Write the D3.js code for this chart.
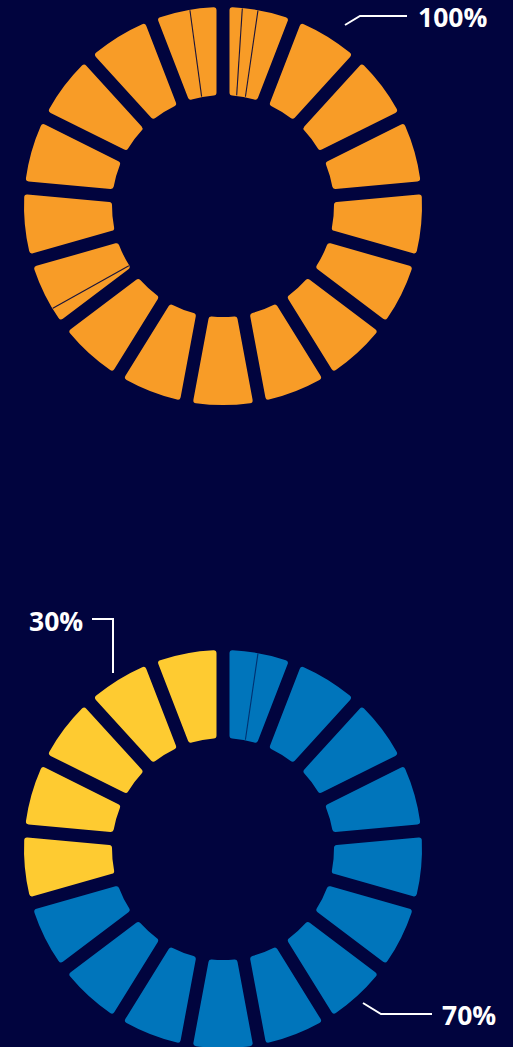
<!DOCTYPE html>
<html><head><meta charset="utf-8">
<script src="https://cdn.jsdelivr.net/npm/d3@7"></script>
<style>html,body{margin:0;padding:0;background:#01043e;overflow:hidden} svg{display:block}</style>
</head><body>
<script>
// ---- data ----
const goals = ["Goal 1","Goal 2","Goal 3","Goal 4","Goal 5","Goal 6","Goal 7","Goal 8","Goal 9",
  "Goal 10","Goal 11","Goal 12","Goal 13","Goal 14","Goal 15","Goal 16","Goal 17"];
const topStatus = ["all","all","all","all","all","all","all","all","all",
  "all","all","all","all","all","all","all","all"];
const bottomStatus = ["blue","blue","blue","blue","blue","blue","blue","blue","blue",
  "blue","blue","blue","yellow","yellow","yellow","yellow","yellow"];
const topLabels = ["100%"];
const bottomLabels = ["30%","70%"];
// sub-slice boundaries inside a goal segment (fraction of the segment)
const topSplits = [
  {goal:"Goal 1", at:0.175, edge:"start"},
  {goal:"Goal 1", at:0.39, edge:"start"},
  {goal:"Goal 12", at:0.376, edge:"end"},
  {goal:"Goal 17", at:0.636, edge:"end"}
];
const bottomSplits = [
  {goal:"Goal 1", at:0.39, edge:"start"}
];

// ---- drawing ----
const W = 513, H = 1047;
const bg = "#01043e";
const colors = {all:"#f89c27", blue:"#0075bb", yellow:"#fecb31"};
const r0 = 111, r1 = 199, padR = Math.sqrt(r0*r0 + r1*r1), padA = 13 / padR;

const svg = d3.select("body").append("svg").attr("width", W).attr("height", H);
svg.append("rect").attr("width", W).attr("height", H).attr("fill", bg);

const pie = d3.pie().sort(null).value(() => 1).startAngle(0).endAngle(2*Math.PI);
const arc = d3.arc().innerRadius(r0).outerRadius(r1).padAngle(padA).padRadius(padR).cornerRadius(3);

function donut(cx, cy, status, splits, lineOpacity) {
  const g = svg.append("g").attr("transform", `translate(${cx},${cy})`);
  const arcs = pie(goals.map((gl, i) => ({goal: gl, status: status[i]})));
  g.selectAll("path").data(arcs).join("path")
    .attr("d", arc).attr("fill", d => colors[d.data.status]);
  const off = padR * Math.sin(padA / 2);
  splits.forEach(s => {
    const a = arcs.find(d => d.data.goal === s.goal);
    const alpha = a.startAngle + s.at * (a.endAngle - a.startAngle);
    const sign = s.edge === "start" ? 1 : -1;
    const pts = [r0 + 0.5, r1 - 0.5].map(r => {
      const t = alpha + sign * Math.asin(off / r);
      return [r * Math.sin(t), -r * Math.cos(t)];
    });
    g.append("line").attr("x1", pts[0][0]).attr("y1", pts[0][1])
      .attr("x2", pts[1][0]).attr("y2", pts[1][1])
      .attr("stroke", bg).attr("stroke-width", 1.1).attr("stroke-opacity", lineOpacity);
  });
  return g;
}

donut(223, 206, topStatus, topSplits, 0.9);
donut(223, 849, bottomStatus, bottomSplits, 0.6);

function label(points, text, tx, ty) {
  svg.append("path").attr("d", d3.line()(points)).attr("fill", "none")
    .attr("stroke", "#fff").attr("stroke-width", 2);
  svg.append("text").attr("x", tx).attr("y", ty).text(text)
    .attr("fill", "#fff").attr("font-family", "'Open Sans', 'Noto Sans', sans-serif")
    .attr("font-weight", 700).attr("font-size", 26.5);
}
label([[345,25],[360,16],[407,16]], topLabels[0], 418, 27);
label([[92,619],[113,619],[113,673]], bottomLabels[0], 29, 630.5);
label([[363,1003],[381,1014],[432,1014]], bottomLabels[1], 442, 1024.5);
</script>
</body></html>
